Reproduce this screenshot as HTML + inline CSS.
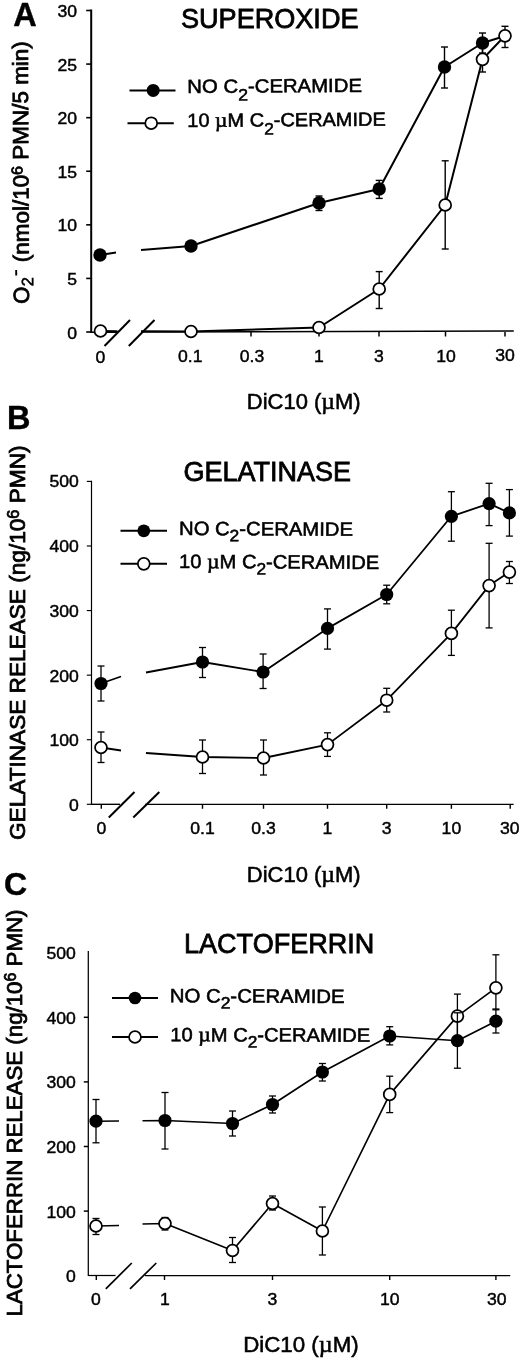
<!DOCTYPE html>
<html><head><meta charset="utf-8"><title>Figure</title>
<style>
html,body{margin:0;padding:0;background:#fff;}
body{width:520px;height:1358px;overflow:hidden;}
svg{display:block;will-change:transform;}
svg text{font-family:"Liberation Sans", sans-serif;fill:#000;stroke:#000;stroke-width:0.42px;}
</style></head><body>
<svg width="520" height="1358" viewBox="0 0 520 1358">
<rect x="0" y="0" width="520" height="1358" fill="#fff"/>
<line x1="91.2" y1="9.5" x2="91.2" y2="333" stroke="#000" stroke-width="2"/>
<line x1="86.2" y1="10.5" x2="91.2" y2="10.5" stroke="#000" stroke-width="1.6"/>
<text transform="translate(77.0,17.0) scale(1.1,1)" x="0" y="0" font-size="16" text-anchor="end" font-weight="normal" >30</text>
<line x1="86.2" y1="64.08333333333334" x2="91.2" y2="64.08333333333334" stroke="#000" stroke-width="1.6"/>
<text transform="translate(77.0,70.58333333333334) scale(1.1,1)" x="0" y="0" font-size="16" text-anchor="end" font-weight="normal" >25</text>
<line x1="86.2" y1="117.66666666666667" x2="91.2" y2="117.66666666666667" stroke="#000" stroke-width="1.6"/>
<text transform="translate(77.0,124.16666666666667) scale(1.1,1)" x="0" y="0" font-size="16" text-anchor="end" font-weight="normal" >20</text>
<line x1="86.2" y1="171.25" x2="91.2" y2="171.25" stroke="#000" stroke-width="1.6"/>
<text transform="translate(77.0,177.75) scale(1.1,1)" x="0" y="0" font-size="16" text-anchor="end" font-weight="normal" >15</text>
<line x1="86.2" y1="224.83333333333334" x2="91.2" y2="224.83333333333334" stroke="#000" stroke-width="1.6"/>
<text transform="translate(77.0,231.33333333333334) scale(1.1,1)" x="0" y="0" font-size="16" text-anchor="end" font-weight="normal" >10</text>
<line x1="86.2" y1="278.4166666666667" x2="91.2" y2="278.4166666666667" stroke="#000" stroke-width="1.6"/>
<text transform="translate(77.0,284.9166666666667) scale(1.1,1)" x="0" y="0" font-size="16" text-anchor="end" font-weight="normal" >5</text>
<line x1="86.2" y1="332.0" x2="91.2" y2="332.0" stroke="#000" stroke-width="1.6"/>
<text transform="translate(77.0,338.5) scale(1.1,1)" x="0" y="0" font-size="16" text-anchor="end" font-weight="normal" >0</text>
<line x1="91.2" y1="332.3" x2="118" y2="332.2" stroke="#000" stroke-width="1.6"/>
<line x1="141" y1="332.1" x2="513.8" y2="331.1" stroke="#000" stroke-width="1.5"/>
<line x1="100.5" y1="332" x2="100.5" y2="336.5" stroke="#000" stroke-width="1.5"/>
<line x1="191" y1="332" x2="191" y2="336.5" stroke="#000" stroke-width="1.5"/>
<line x1="251" y1="332" x2="251" y2="336.5" stroke="#000" stroke-width="1.5"/>
<line x1="319" y1="332" x2="319" y2="336.5" stroke="#000" stroke-width="1.5"/>
<line x1="379" y1="332" x2="379" y2="336.5" stroke="#000" stroke-width="1.5"/>
<line x1="445.5" y1="332" x2="445.5" y2="336.5" stroke="#000" stroke-width="1.5"/>
<line x1="505" y1="332" x2="505" y2="336.5" stroke="#000" stroke-width="1.5"/>
<line x1="104.5" y1="346" x2="130" y2="320" stroke="#000" stroke-width="2"/>
<line x1="128.8" y1="346" x2="154.5" y2="320" stroke="#000" stroke-width="2"/>
<text transform="translate(100.5,362.7982716049383) scale(1.067,1)" x="0" y="0" font-size="16.5" text-anchor="middle" font-weight="normal" >0</text>
<text transform="translate(190.3,362.4878518518519) scale(1.067,1)" x="0" y="0" font-size="16.5" text-anchor="middle" font-weight="normal" >0.1</text>
<text transform="translate(252,362.2745679012346) scale(1.067,1)" x="0" y="0" font-size="16.5" text-anchor="middle" font-weight="normal" >0.3</text>
<text transform="translate(319,362.042962962963) scale(1.067,1)" x="0" y="0" font-size="16.5" text-anchor="middle" font-weight="normal" >1</text>
<text transform="translate(379,361.8355555555556) scale(1.067,1)" x="0" y="0" font-size="16.5" text-anchor="middle" font-weight="normal" >3</text>
<text transform="translate(446,361.60395061728394) scale(1.067,1)" x="0" y="0" font-size="16.5" text-anchor="middle" font-weight="normal" >10</text>
<text transform="translate(505,361.40000000000003) scale(1.067,1)" x="0" y="0" font-size="16.5" text-anchor="middle" font-weight="normal" >30</text>
<text x="181" y="28" font-size="27" text-anchor="start" font-weight="normal" textLength="177.5" lengthAdjust="spacingAndGlyphs" style="stroke-width:0.78px">SUPEROXIDE</text>
<text x="246.8" y="409.2" font-size="22" text-anchor="start" font-weight="normal" textLength="113.8" lengthAdjust="spacingAndGlyphs" style="stroke-width:0.55px">DiC10 (<tspan style="font-family:&quot;Liberation Serif&quot;,serif;font-size:108%">µ</tspan>M)</text>
<text x="13.3" y="26" font-size="32.5" text-anchor="start" font-weight="bold" >A</text>
<g transform="translate(29.0,302.8) rotate(-90.26)">
<text x="-0.9" y="0" font-size="22" text-anchor="start" font-weight="normal" style="stroke-width:0.8px">O</text>
<text x="16.6" y="4.2" font-size="16.5" text-anchor="start" font-weight="normal" style="stroke-width:0.5px">2</text>
<rect x="27.3" y="-13.6" width="5.6" height="1.9" fill="#000"/>
<text x="40.6" y="0" font-size="22" text-anchor="start" font-weight="normal" textLength="221" lengthAdjust="spacingAndGlyphs" style="stroke-width:0.8px">(nmol/10<tspan font-size="15.8" dy="-6">6</tspan><tspan dy="6"> </tspan>PMN/5 min)</text>
</g>
<line x1="129.5" y1="90.4" x2="175.5" y2="90.4" stroke="#000" stroke-width="2"/>
<circle cx="153.2" cy="90.4" r="6.5" fill="#000"/>
<line x1="127.5" y1="123.2" x2="173.8" y2="123.2" stroke="#000" stroke-width="2"/>
<circle cx="151.2" cy="123.2" r="5.95" fill="#fff" stroke="#000" stroke-width="1.75"/>
<text x="187.3" y="92.9" font-size="19" text-anchor="start" font-weight="normal" textLength="174.7" lengthAdjust="spacingAndGlyphs" style="stroke-width:0.55px" transform="rotate(-0.35,187.3,92.9)">NO C<tspan font-size="16.5" dy="8">2</tspan><tspan dy="-8">-CERAMIDE</tspan></text>
<text x="187.3" y="126.9" font-size="19" text-anchor="start" font-weight="normal" textLength="198.5" lengthAdjust="spacingAndGlyphs" style="stroke-width:0.55px" transform="rotate(-0.35,187.3,126.9)">10 <tspan style="font-family:&quot;Liberation Serif&quot;,serif;font-size:108%">µ</tspan>M C<tspan font-size="16.5" dy="8">2</tspan><tspan dy="-8">-CERAMIDE</tspan></text>
<polyline fill="none" stroke="#000" stroke-width="2" stroke-linejoin="round" points="100,255 116,252.6"/>
<polyline fill="none" stroke="#000" stroke-width="2" stroke-linejoin="round" points="141,250 191,246 319,203 379.2,189 444.5,67 482.5,43 505,36"/>
<polyline fill="none" stroke="#000" stroke-width="2" stroke-linejoin="round" points="100.5,331 117.5,331.2"/>
<polyline fill="none" stroke="#000" stroke-width="2" stroke-linejoin="round" points="141,331.3 191,331.5 319,327.5 379.2,289 445.2,205 482.5,59.3 505,35.8"/>
<line x1="319" y1="196" x2="319" y2="210.5" stroke="#000" stroke-width="1.4"/>
<line x1="315.5" y1="196" x2="322.5" y2="196" stroke="#000" stroke-width="1.4"/>
<line x1="315.5" y1="210.5" x2="322.5" y2="210.5" stroke="#000" stroke-width="1.4"/>
<line x1="379.2" y1="180.4" x2="379.2" y2="198.4" stroke="#000" stroke-width="1.4"/>
<line x1="375.7" y1="180.4" x2="382.7" y2="180.4" stroke="#000" stroke-width="1.4"/>
<line x1="375.7" y1="198.4" x2="382.7" y2="198.4" stroke="#000" stroke-width="1.4"/>
<line x1="444.5" y1="47" x2="444.5" y2="88" stroke="#000" stroke-width="1.4"/>
<line x1="441.0" y1="47" x2="448.0" y2="47" stroke="#000" stroke-width="1.4"/>
<line x1="441.0" y1="88" x2="448.0" y2="88" stroke="#000" stroke-width="1.4"/>
<line x1="482.5" y1="33" x2="482.5" y2="53" stroke="#000" stroke-width="1.4"/>
<line x1="479.0" y1="33" x2="486.0" y2="33" stroke="#000" stroke-width="1.4"/>
<line x1="479.0" y1="53" x2="486.0" y2="53" stroke="#000" stroke-width="1.4"/>
<line x1="379.2" y1="271.6" x2="379.2" y2="308.5" stroke="#000" stroke-width="1.4"/>
<line x1="375.7" y1="271.6" x2="382.7" y2="271.6" stroke="#000" stroke-width="1.4"/>
<line x1="375.7" y1="308.5" x2="382.7" y2="308.5" stroke="#000" stroke-width="1.4"/>
<line x1="445.2" y1="160.8" x2="445.2" y2="249" stroke="#000" stroke-width="1.4"/>
<line x1="441.7" y1="160.8" x2="448.7" y2="160.8" stroke="#000" stroke-width="1.4"/>
<line x1="441.7" y1="249" x2="448.7" y2="249" stroke="#000" stroke-width="1.4"/>
<line x1="482.5" y1="47" x2="482.5" y2="72" stroke="#000" stroke-width="1.4"/>
<line x1="479.0" y1="47" x2="486.0" y2="47" stroke="#000" stroke-width="1.4"/>
<line x1="479.0" y1="72" x2="486.0" y2="72" stroke="#000" stroke-width="1.4"/>
<line x1="505" y1="26.3" x2="505" y2="47.5" stroke="#000" stroke-width="1.4"/>
<line x1="501.5" y1="26.3" x2="508.5" y2="26.3" stroke="#000" stroke-width="1.4"/>
<line x1="501.5" y1="47.5" x2="508.5" y2="47.5" stroke="#000" stroke-width="1.4"/>
<circle cx="100" cy="255" r="6.7" fill="#000"/>
<circle cx="191" cy="246" r="6.7" fill="#000"/>
<circle cx="319" cy="203" r="6.7" fill="#000"/>
<circle cx="379.2" cy="189" r="6.7" fill="#000"/>
<circle cx="444.5" cy="67" r="6.7" fill="#000"/>
<circle cx="482.5" cy="43" r="6.7" fill="#000"/>
<circle cx="100.5" cy="331" r="5.95" fill="#fff" stroke="#000" stroke-width="1.75"/>
<circle cx="191" cy="331.5" r="5.95" fill="#fff" stroke="#000" stroke-width="1.75"/>
<circle cx="319" cy="327.5" r="5.95" fill="#fff" stroke="#000" stroke-width="1.75"/>
<circle cx="379.2" cy="289" r="5.95" fill="#fff" stroke="#000" stroke-width="1.75"/>
<circle cx="445.2" cy="205" r="5.95" fill="#fff" stroke="#000" stroke-width="1.75"/>
<circle cx="482.5" cy="59.3" r="5.95" fill="#fff" stroke="#000" stroke-width="1.75"/>
<circle cx="505" cy="35.8" r="5.95" fill="#fff" stroke="#000" stroke-width="1.75"/>
<line x1="91.5" y1="480.79999999999995" x2="91.5" y2="804.9" stroke="#000" stroke-width="1.2"/>
<line x1="86.8" y1="481.4" x2="91.5" y2="481.4" stroke="#000" stroke-width="1.15"/>
<text transform="translate(78.8,487.29999999999995) scale(1.1,1)" x="0" y="0" font-size="16" text-anchor="end" font-weight="normal" >500</text>
<line x1="86.8" y1="545.98" x2="91.5" y2="545.98" stroke="#000" stroke-width="1.15"/>
<text transform="translate(78.8,552.08) scale(1.1,1)" x="0" y="0" font-size="16" text-anchor="end" font-weight="normal" >400</text>
<line x1="86.8" y1="610.56" x2="91.5" y2="610.56" stroke="#000" stroke-width="1.15"/>
<text transform="translate(78.8,616.8599999999999) scale(1.1,1)" x="0" y="0" font-size="16" text-anchor="end" font-weight="normal" >300</text>
<line x1="86.8" y1="675.14" x2="91.5" y2="675.14" stroke="#000" stroke-width="1.15"/>
<text transform="translate(78.8,681.64) scale(1.1,1)" x="0" y="0" font-size="16" text-anchor="end" font-weight="normal" >200</text>
<line x1="86.8" y1="739.72" x2="91.5" y2="739.72" stroke="#000" stroke-width="1.15"/>
<text transform="translate(78.8,746.42) scale(1.1,1)" x="0" y="0" font-size="16" text-anchor="end" font-weight="normal" >100</text>
<line x1="86.8" y1="804.3" x2="91.5" y2="804.3" stroke="#000" stroke-width="1.15"/>
<text transform="translate(78.8,811.1999999999999) scale(1.1,1)" x="0" y="0" font-size="16" text-anchor="end" font-weight="normal" >0</text>
<line x1="91.5" y1="804.3" x2="120" y2="804.3" stroke="#000" stroke-width="1.35"/>
<line x1="145" y1="804.3" x2="513.6" y2="804.3" stroke="#000" stroke-width="1.35"/>
<line x1="101.3" y1="804.3" x2="101.3" y2="808.8" stroke="#000" stroke-width="1.4"/>
<line x1="202.5" y1="804.3" x2="202.5" y2="808.8" stroke="#000" stroke-width="1.4"/>
<line x1="263.5" y1="804.3" x2="263.5" y2="808.8" stroke="#000" stroke-width="1.4"/>
<line x1="327.5" y1="804.3" x2="327.5" y2="808.8" stroke="#000" stroke-width="1.4"/>
<line x1="386.7" y1="804.3" x2="386.7" y2="808.8" stroke="#000" stroke-width="1.4"/>
<line x1="451.4" y1="804.3" x2="451.4" y2="808.8" stroke="#000" stroke-width="1.4"/>
<line x1="510.2" y1="804.3" x2="510.2" y2="808.8" stroke="#000" stroke-width="1.4"/>
<line x1="108.8" y1="817.5" x2="134.5" y2="792" stroke="#000" stroke-width="2"/>
<line x1="133.3" y1="817.5" x2="159.3" y2="792" stroke="#000" stroke-width="2"/>
<text transform="translate(101.5,833.8) scale(1.1,1)" x="0" y="0" font-size="16" text-anchor="middle" font-weight="normal" >0</text>
<text transform="translate(202.5,833.8) scale(1.1,1)" x="0" y="0" font-size="16" text-anchor="middle" font-weight="normal" >0.1</text>
<text transform="translate(263.5,833.8) scale(1.1,1)" x="0" y="0" font-size="16" text-anchor="middle" font-weight="normal" >0.3</text>
<text transform="translate(327.5,833.8) scale(1.1,1)" x="0" y="0" font-size="16" text-anchor="middle" font-weight="normal" >1</text>
<text transform="translate(386.7,833.8) scale(1.1,1)" x="0" y="0" font-size="16" text-anchor="middle" font-weight="normal" >3</text>
<text transform="translate(451.4,833.8) scale(1.1,1)" x="0" y="0" font-size="16" text-anchor="middle" font-weight="normal" >10</text>
<text transform="translate(519.5,833.8) scale(1.1,1)" x="0" y="0" font-size="16" text-anchor="end" font-weight="normal" >30</text>
<text x="183.5" y="480.6" font-size="27" text-anchor="start" font-weight="normal" textLength="167.5" lengthAdjust="spacingAndGlyphs" style="stroke-width:0.78px">GELATINASE</text>
<text x="246.8" y="881.5" font-size="22" text-anchor="start" font-weight="normal" textLength="113.8" lengthAdjust="spacingAndGlyphs" style="stroke-width:0.55px">DiC10 (<tspan style="font-family:&quot;Liberation Serif&quot;,serif;font-size:108%">µ</tspan>M)</text>
<text x="7.0" y="429.4" font-size="32.5" text-anchor="start" font-weight="bold" >B</text>
<g transform="translate(25.3,840) rotate(-90)">
<text x="0" y="0" font-size="22" text-anchor="start" font-weight="normal" textLength="394.5" lengthAdjust="spacingAndGlyphs" style="stroke-width:0.8px">GELATINASE RELEASE (ng/10<tspan font-size="15.8" dy="-6">6</tspan><tspan dy="6"> </tspan>PMN)</text>
</g>
<line x1="120.5" y1="530.8" x2="167" y2="530.8" stroke="#000" stroke-width="2"/>
<circle cx="143.8" cy="530.8" r="6.4" fill="#000"/>
<line x1="120.5" y1="563.8" x2="167" y2="563.8" stroke="#000" stroke-width="2"/>
<circle cx="143.8" cy="563.8" r="5.95" fill="#fff" stroke="#000" stroke-width="1.75"/>
<text x="179.0" y="535" font-size="19.3" text-anchor="start" font-weight="normal" textLength="174.0" lengthAdjust="spacingAndGlyphs" style="stroke-width:0.55px" transform="rotate(0.3,179.0,535)">NO C<tspan font-size="16.5" dy="6.0">2</tspan><tspan dy="-6.0">-CERAMIDE</tspan></text>
<text x="179.0" y="568" font-size="19.3" text-anchor="start" font-weight="normal" textLength="200.2" lengthAdjust="spacingAndGlyphs" style="stroke-width:0.55px" transform="rotate(0.3,179.0,568)">10 <tspan style="font-family:&quot;Liberation Serif&quot;,serif;font-size:108%">µ</tspan>M C<tspan font-size="16.5" dy="6.0">2</tspan><tspan dy="-6.0">-CERAMIDE</tspan></text>
<polyline fill="none" stroke="#000" stroke-width="1.8" stroke-linejoin="round" points="101,683.5 121,676.5"/>
<polyline fill="none" stroke="#000" stroke-width="1.8" stroke-linejoin="round" points="146,672.5 202.5,662 263.1,672 327.5,628.4 386.7,594.5 451.4,516.3 489.1,503.6 509.4,512.9"/>
<polyline fill="none" stroke="#000" stroke-width="1.8" stroke-linejoin="round" points="101,747.5 121,750.5"/>
<polyline fill="none" stroke="#000" stroke-width="1.8" stroke-linejoin="round" points="146,753 202.5,757 263.5,758 327.5,744.6 386.7,700.2 451.4,633.4 489.1,585.6 509.4,572.1"/>
<line x1="101" y1="666" x2="101" y2="701" stroke="#000" stroke-width="1.3"/>
<line x1="97.5" y1="666" x2="104.5" y2="666" stroke="#000" stroke-width="1.3"/>
<line x1="97.5" y1="701" x2="104.5" y2="701" stroke="#000" stroke-width="1.3"/>
<line x1="202.5" y1="647.5" x2="202.5" y2="677.5" stroke="#000" stroke-width="1.3"/>
<line x1="199.0" y1="647.5" x2="206.0" y2="647.5" stroke="#000" stroke-width="1.3"/>
<line x1="199.0" y1="677.5" x2="206.0" y2="677.5" stroke="#000" stroke-width="1.3"/>
<line x1="263.1" y1="654" x2="263.1" y2="688.5" stroke="#000" stroke-width="1.3"/>
<line x1="259.6" y1="654" x2="266.6" y2="654" stroke="#000" stroke-width="1.3"/>
<line x1="259.6" y1="688.5" x2="266.6" y2="688.5" stroke="#000" stroke-width="1.3"/>
<line x1="327.5" y1="608.9" x2="327.5" y2="649.1" stroke="#000" stroke-width="1.3"/>
<line x1="324.0" y1="608.9" x2="331.0" y2="608.9" stroke="#000" stroke-width="1.3"/>
<line x1="324.0" y1="649.1" x2="331.0" y2="649.1" stroke="#000" stroke-width="1.3"/>
<line x1="386.7" y1="585.2" x2="386.7" y2="603.8" stroke="#000" stroke-width="1.3"/>
<line x1="383.2" y1="585.2" x2="390.2" y2="585.2" stroke="#000" stroke-width="1.3"/>
<line x1="383.2" y1="603.8" x2="390.2" y2="603.8" stroke="#000" stroke-width="1.3"/>
<line x1="451.4" y1="491.7" x2="451.4" y2="541.2" stroke="#000" stroke-width="1.3"/>
<line x1="447.9" y1="491.7" x2="454.9" y2="491.7" stroke="#000" stroke-width="1.3"/>
<line x1="447.9" y1="541.2" x2="454.9" y2="541.2" stroke="#000" stroke-width="1.3"/>
<line x1="489.1" y1="483.3" x2="489.1" y2="525.6" stroke="#000" stroke-width="1.3"/>
<line x1="485.6" y1="483.3" x2="492.6" y2="483.3" stroke="#000" stroke-width="1.3"/>
<line x1="485.6" y1="525.6" x2="492.6" y2="525.6" stroke="#000" stroke-width="1.3"/>
<line x1="509.4" y1="489.6" x2="509.4" y2="536.1" stroke="#000" stroke-width="1.3"/>
<line x1="505.9" y1="489.6" x2="512.9" y2="489.6" stroke="#000" stroke-width="1.3"/>
<line x1="505.9" y1="536.1" x2="512.9" y2="536.1" stroke="#000" stroke-width="1.3"/>
<line x1="101" y1="732" x2="101" y2="762.5" stroke="#000" stroke-width="1.3"/>
<line x1="97.5" y1="732" x2="104.5" y2="732" stroke="#000" stroke-width="1.3"/>
<line x1="97.5" y1="762.5" x2="104.5" y2="762.5" stroke="#000" stroke-width="1.3"/>
<line x1="202.5" y1="740" x2="202.5" y2="773.5" stroke="#000" stroke-width="1.3"/>
<line x1="199.0" y1="740" x2="206.0" y2="740" stroke="#000" stroke-width="1.3"/>
<line x1="199.0" y1="773.5" x2="206.0" y2="773.5" stroke="#000" stroke-width="1.3"/>
<line x1="263.5" y1="740" x2="263.5" y2="775" stroke="#000" stroke-width="1.3"/>
<line x1="260.0" y1="740" x2="267.0" y2="740" stroke="#000" stroke-width="1.3"/>
<line x1="260.0" y1="775" x2="267.0" y2="775" stroke="#000" stroke-width="1.3"/>
<line x1="327.5" y1="732.8" x2="327.5" y2="756.4" stroke="#000" stroke-width="1.3"/>
<line x1="324.0" y1="732.8" x2="331.0" y2="732.8" stroke="#000" stroke-width="1.3"/>
<line x1="324.0" y1="756.4" x2="331.0" y2="756.4" stroke="#000" stroke-width="1.3"/>
<line x1="386.7" y1="688.3" x2="386.7" y2="712" stroke="#000" stroke-width="1.3"/>
<line x1="383.2" y1="688.3" x2="390.2" y2="688.3" stroke="#000" stroke-width="1.3"/>
<line x1="383.2" y1="712" x2="390.2" y2="712" stroke="#000" stroke-width="1.3"/>
<line x1="451.4" y1="610.2" x2="451.4" y2="655.4" stroke="#000" stroke-width="1.3"/>
<line x1="447.9" y1="610.2" x2="454.9" y2="610.2" stroke="#000" stroke-width="1.3"/>
<line x1="447.9" y1="655.4" x2="454.9" y2="655.4" stroke="#000" stroke-width="1.3"/>
<line x1="489.1" y1="543.3" x2="489.1" y2="627.9" stroke="#000" stroke-width="1.3"/>
<line x1="485.6" y1="543.3" x2="492.6" y2="543.3" stroke="#000" stroke-width="1.3"/>
<line x1="485.6" y1="627.9" x2="492.6" y2="627.9" stroke="#000" stroke-width="1.3"/>
<line x1="509.4" y1="561.5" x2="509.4" y2="583.5" stroke="#000" stroke-width="1.3"/>
<line x1="505.9" y1="561.5" x2="512.9" y2="561.5" stroke="#000" stroke-width="1.3"/>
<line x1="505.9" y1="583.5" x2="512.9" y2="583.5" stroke="#000" stroke-width="1.3"/>
<circle cx="101" cy="683.5" r="6.6" fill="#000"/>
<circle cx="202.5" cy="662" r="6.6" fill="#000"/>
<circle cx="263.1" cy="672" r="6.6" fill="#000"/>
<circle cx="327.5" cy="628.4" r="6.6" fill="#000"/>
<circle cx="386.7" cy="594.5" r="6.6" fill="#000"/>
<circle cx="451.4" cy="516.3" r="6.6" fill="#000"/>
<circle cx="489.1" cy="503.6" r="6.6" fill="#000"/>
<circle cx="509.4" cy="512.9" r="6.6" fill="#000"/>
<circle cx="101" cy="747.5" r="5.95" fill="#fff" stroke="#000" stroke-width="1.75"/>
<circle cx="202.5" cy="757" r="5.95" fill="#fff" stroke="#000" stroke-width="1.75"/>
<circle cx="263.5" cy="758" r="5.95" fill="#fff" stroke="#000" stroke-width="1.75"/>
<circle cx="327.5" cy="744.6" r="5.95" fill="#fff" stroke="#000" stroke-width="1.75"/>
<circle cx="386.7" cy="700.2" r="5.95" fill="#fff" stroke="#000" stroke-width="1.75"/>
<circle cx="451.4" cy="633.4" r="5.95" fill="#fff" stroke="#000" stroke-width="1.75"/>
<circle cx="489.1" cy="585.6" r="5.95" fill="#fff" stroke="#000" stroke-width="1.75"/>
<circle cx="509.4" cy="572.1" r="5.95" fill="#fff" stroke="#000" stroke-width="1.75"/>
<line x1="88.3" y1="951" x2="88.3" y2="1276.1" stroke="#000" stroke-width="1.25"/>
<text transform="translate(75.8,959.1) scale(1.1,1)" x="0" y="0" font-size="16" text-anchor="end" font-weight="normal" >500</text>
<line x1="83.8" y1="1017.3000000000001" x2="88.3" y2="1017.3000000000001" stroke="#000" stroke-width="1.5"/>
<text transform="translate(75.8,1023.75) scale(1.1,1)" x="0" y="0" font-size="16" text-anchor="end" font-weight="normal" >400</text>
<line x1="83.8" y1="1081.9" x2="88.3" y2="1081.9" stroke="#000" stroke-width="1.5"/>
<text transform="translate(75.8,1088.4) scale(1.1,1)" x="0" y="0" font-size="16" text-anchor="end" font-weight="normal" >300</text>
<line x1="83.8" y1="1146.5" x2="88.3" y2="1146.5" stroke="#000" stroke-width="1.5"/>
<text transform="translate(75.8,1153.0500000000002) scale(1.1,1)" x="0" y="0" font-size="16" text-anchor="end" font-weight="normal" >200</text>
<line x1="83.8" y1="1211.1" x2="88.3" y2="1211.1" stroke="#000" stroke-width="1.5"/>
<text transform="translate(75.8,1217.7) scale(1.1,1)" x="0" y="0" font-size="16" text-anchor="end" font-weight="normal" >100</text>
<text transform="translate(75.8,1282.3500000000001) scale(1.1,1)" x="0" y="0" font-size="16" text-anchor="end" font-weight="normal" >0</text>
<line x1="88.3" y1="1275.5" x2="115.5" y2="1275.5" stroke="#000" stroke-width="1.25"/>
<line x1="145" y1="1275.5" x2="510.2" y2="1275.5" stroke="#000" stroke-width="1.25"/>
<line x1="96.3" y1="1275.5" x2="96.3" y2="1280.0" stroke="#000" stroke-width="1.4"/>
<line x1="164.5" y1="1275.5" x2="164.5" y2="1280.0" stroke="#000" stroke-width="1.4"/>
<line x1="272.5" y1="1275.5" x2="272.5" y2="1280.0" stroke="#000" stroke-width="1.4"/>
<line x1="389.7" y1="1275.5" x2="389.7" y2="1280.0" stroke="#000" stroke-width="1.4"/>
<line x1="495.9" y1="1275.5" x2="495.9" y2="1280.0" stroke="#000" stroke-width="1.4"/>
<line x1="105.8" y1="1288.8" x2="131.8" y2="1263" stroke="#000" stroke-width="1.7"/>
<line x1="130" y1="1288.8" x2="156.3" y2="1263" stroke="#000" stroke-width="1.7"/>
<text transform="translate(95.8,1304.6) scale(1.1,1)" x="0" y="0" font-size="16" text-anchor="middle" font-weight="normal" >0</text>
<text transform="translate(165,1304.6) scale(1.1,1)" x="0" y="0" font-size="16" text-anchor="middle" font-weight="normal" >1</text>
<text transform="translate(272.3,1304.6) scale(1.1,1)" x="0" y="0" font-size="16" text-anchor="middle" font-weight="normal" >3</text>
<text transform="translate(389.7,1304.6) scale(1.1,1)" x="0" y="0" font-size="16" text-anchor="middle" font-weight="normal" >10</text>
<text transform="translate(496.7,1304.6) scale(1.1,1)" x="0" y="0" font-size="16" text-anchor="middle" font-weight="normal" >30</text>
<text x="184" y="953" font-size="27" text-anchor="start" font-weight="normal" textLength="190.3" lengthAdjust="spacingAndGlyphs" style="stroke-width:0.78px">LACTOFERRIN</text>
<text x="243.2" y="1352.4" font-size="22" text-anchor="start" font-weight="normal" textLength="115.5" lengthAdjust="spacingAndGlyphs" style="stroke-width:0.55px">DiC10 (<tspan style="font-family:&quot;Liberation Serif&quot;,serif;font-size:108%">µ</tspan>M)</text>
<text x="4.0" y="894.5" font-size="32" text-anchor="start" font-weight="bold" >C</text>
<g transform="translate(22.3,1316.5) rotate(-90)">
<text x="0" y="0" font-size="22" text-anchor="start" font-weight="normal" textLength="407" lengthAdjust="spacingAndGlyphs" style="stroke-width:0.8px">LACTOFERRIN RELEASE (ng/10<tspan font-size="15.8" dy="-6">6</tspan><tspan dy="6"> </tspan>PMN)</text>
</g>
<line x1="112" y1="998" x2="158" y2="998" stroke="#000" stroke-width="2"/>
<circle cx="135" cy="998" r="6.3" fill="#000"/>
<line x1="112" y1="1037" x2="158" y2="1037" stroke="#000" stroke-width="2"/>
<circle cx="135" cy="1037" r="5.95" fill="#fff" stroke="#000" stroke-width="1.75"/>
<text x="169.8" y="1002.2" font-size="19.3" text-anchor="start" font-weight="normal" textLength="174.8" lengthAdjust="spacingAndGlyphs" style="stroke-width:0.55px" transform="rotate(0.3,169.8,1002.2)">NO C<tspan font-size="16.5" dy="6.0">2</tspan><tspan dy="-6.0">-CERAMIDE</tspan></text>
<text x="170.3" y="1041.3" font-size="19.3" text-anchor="start" font-weight="normal" textLength="200.0" lengthAdjust="spacingAndGlyphs" style="stroke-width:0.55px" transform="rotate(0.15,170.3,1041.3)">10 <tspan style="font-family:&quot;Liberation Serif&quot;,serif;font-size:108%">µ</tspan>M C<tspan font-size="16.5" dy="6.0">2</tspan><tspan dy="-6.0">-CERAMIDE</tspan></text>
<polyline fill="none" stroke="#000" stroke-width="1.65" stroke-linejoin="round" points="96,1226 119,1225.5"/>
<polyline fill="none" stroke="#000" stroke-width="1.65" stroke-linejoin="round" points="142.5,1224 165,1223.5 232.5,1250.5 272.5,1203.5 322.4,1231 389.7,1094.4 457.4,1016.1 495.9,987.8"/>
<line x1="96" y1="1218.5" x2="96" y2="1234.5" stroke="#000" stroke-width="1.3"/>
<line x1="92.5" y1="1218.5" x2="99.5" y2="1218.5" stroke="#000" stroke-width="1.3"/>
<line x1="92.5" y1="1234.5" x2="99.5" y2="1234.5" stroke="#000" stroke-width="1.3"/>
<line x1="165" y1="1217.5" x2="165" y2="1230" stroke="#000" stroke-width="1.3"/>
<line x1="161.5" y1="1217.5" x2="168.5" y2="1217.5" stroke="#000" stroke-width="1.3"/>
<line x1="161.5" y1="1230" x2="168.5" y2="1230" stroke="#000" stroke-width="1.3"/>
<line x1="232.5" y1="1237.5" x2="232.5" y2="1262.5" stroke="#000" stroke-width="1.3"/>
<line x1="229.0" y1="1237.5" x2="236.0" y2="1237.5" stroke="#000" stroke-width="1.3"/>
<line x1="229.0" y1="1262.5" x2="236.0" y2="1262.5" stroke="#000" stroke-width="1.3"/>
<line x1="272.5" y1="1196" x2="272.5" y2="1210" stroke="#000" stroke-width="1.3"/>
<line x1="269.0" y1="1196" x2="276.0" y2="1196" stroke="#000" stroke-width="1.3"/>
<line x1="269.0" y1="1210" x2="276.0" y2="1210" stroke="#000" stroke-width="1.3"/>
<line x1="322.4" y1="1207" x2="322.4" y2="1255" stroke="#000" stroke-width="1.3"/>
<line x1="318.9" y1="1207" x2="325.9" y2="1207" stroke="#000" stroke-width="1.3"/>
<line x1="318.9" y1="1255" x2="325.9" y2="1255" stroke="#000" stroke-width="1.3"/>
<line x1="389.7" y1="1076.2" x2="389.7" y2="1112.6" stroke="#000" stroke-width="1.3"/>
<line x1="386.2" y1="1076.2" x2="393.2" y2="1076.2" stroke="#000" stroke-width="1.3"/>
<line x1="386.2" y1="1112.6" x2="393.2" y2="1112.6" stroke="#000" stroke-width="1.3"/>
<line x1="457.4" y1="994.1" x2="457.4" y2="1040" stroke="#000" stroke-width="1.3"/>
<line x1="453.9" y1="994.1" x2="460.9" y2="994.1" stroke="#000" stroke-width="1.3"/>
<line x1="453.9" y1="1040" x2="460.9" y2="1040" stroke="#000" stroke-width="1.3"/>
<line x1="495.9" y1="954.8" x2="495.9" y2="1009.8" stroke="#000" stroke-width="1.3"/>
<line x1="492.4" y1="954.8" x2="499.4" y2="954.8" stroke="#000" stroke-width="1.3"/>
<line x1="492.4" y1="1009.8" x2="499.4" y2="1009.8" stroke="#000" stroke-width="1.3"/>
<circle cx="96" cy="1226" r="5.95" fill="#fff" stroke="#000" stroke-width="1.75"/>
<circle cx="165" cy="1223.5" r="5.95" fill="#fff" stroke="#000" stroke-width="1.75"/>
<circle cx="232.5" cy="1250.5" r="5.95" fill="#fff" stroke="#000" stroke-width="1.75"/>
<circle cx="272.5" cy="1203.5" r="5.95" fill="#fff" stroke="#000" stroke-width="1.75"/>
<circle cx="322.4" cy="1231" r="5.95" fill="#fff" stroke="#000" stroke-width="1.75"/>
<circle cx="389.7" cy="1094.4" r="5.95" fill="#fff" stroke="#000" stroke-width="1.75"/>
<circle cx="457.4" cy="1016.1" r="5.95" fill="#fff" stroke="#000" stroke-width="1.75"/>
<circle cx="495.9" cy="987.8" r="5.95" fill="#fff" stroke="#000" stroke-width="1.75"/>
<polyline fill="none" stroke="#000" stroke-width="1.65" stroke-linejoin="round" points="96,1121.2 119,1121"/>
<polyline fill="none" stroke="#000" stroke-width="1.65" stroke-linejoin="round" points="142.5,1120.7 165,1120.5 232.5,1123.5 272.5,1104.5 322.4,1072 389.7,1036 457.4,1040.7 495.9,1021.2"/>
<line x1="96" y1="1099.5" x2="96" y2="1142.8" stroke="#000" stroke-width="1.3"/>
<line x1="92.5" y1="1099.5" x2="99.5" y2="1099.5" stroke="#000" stroke-width="1.3"/>
<line x1="92.5" y1="1142.8" x2="99.5" y2="1142.8" stroke="#000" stroke-width="1.3"/>
<line x1="165" y1="1092.5" x2="165" y2="1149" stroke="#000" stroke-width="1.3"/>
<line x1="161.5" y1="1092.5" x2="168.5" y2="1092.5" stroke="#000" stroke-width="1.3"/>
<line x1="161.5" y1="1149" x2="168.5" y2="1149" stroke="#000" stroke-width="1.3"/>
<line x1="232.5" y1="1111" x2="232.5" y2="1136" stroke="#000" stroke-width="1.3"/>
<line x1="229.0" y1="1111" x2="236.0" y2="1111" stroke="#000" stroke-width="1.3"/>
<line x1="229.0" y1="1136" x2="236.0" y2="1136" stroke="#000" stroke-width="1.3"/>
<line x1="272.5" y1="1096" x2="272.5" y2="1113" stroke="#000" stroke-width="1.3"/>
<line x1="269.0" y1="1096" x2="276.0" y2="1096" stroke="#000" stroke-width="1.3"/>
<line x1="269.0" y1="1113" x2="276.0" y2="1113" stroke="#000" stroke-width="1.3"/>
<line x1="322.4" y1="1063.5" x2="322.4" y2="1081" stroke="#000" stroke-width="1.3"/>
<line x1="318.9" y1="1063.5" x2="325.9" y2="1063.5" stroke="#000" stroke-width="1.3"/>
<line x1="318.9" y1="1081" x2="325.9" y2="1081" stroke="#000" stroke-width="1.3"/>
<line x1="389.7" y1="1026.7" x2="389.7" y2="1044.9" stroke="#000" stroke-width="1.3"/>
<line x1="386.2" y1="1026.7" x2="393.2" y2="1026.7" stroke="#000" stroke-width="1.3"/>
<line x1="386.2" y1="1044.9" x2="393.2" y2="1044.9" stroke="#000" stroke-width="1.3"/>
<line x1="457.4" y1="1012.8" x2="457.4" y2="1068.2" stroke="#000" stroke-width="1.3"/>
<line x1="453.9" y1="1012.8" x2="460.9" y2="1012.8" stroke="#000" stroke-width="1.3"/>
<line x1="453.9" y1="1068.2" x2="460.9" y2="1068.2" stroke="#000" stroke-width="1.3"/>
<line x1="495.9" y1="1009" x2="495.9" y2="1033" stroke="#000" stroke-width="1.3"/>
<line x1="492.4" y1="1009" x2="499.4" y2="1009" stroke="#000" stroke-width="1.3"/>
<line x1="492.4" y1="1033" x2="499.4" y2="1033" stroke="#000" stroke-width="1.3"/>
<circle cx="96" cy="1121.2" r="6.6" fill="#000"/>
<circle cx="165" cy="1120.5" r="6.6" fill="#000"/>
<circle cx="232.5" cy="1123.5" r="6.6" fill="#000"/>
<circle cx="272.5" cy="1104.5" r="6.6" fill="#000"/>
<circle cx="322.4" cy="1072" r="6.6" fill="#000"/>
<circle cx="389.7" cy="1036" r="6.6" fill="#000"/>
<circle cx="457.4" cy="1040.7" r="6.6" fill="#000"/>
<circle cx="495.9" cy="1021.2" r="6.6" fill="#000"/>
</svg>
</body></html>
